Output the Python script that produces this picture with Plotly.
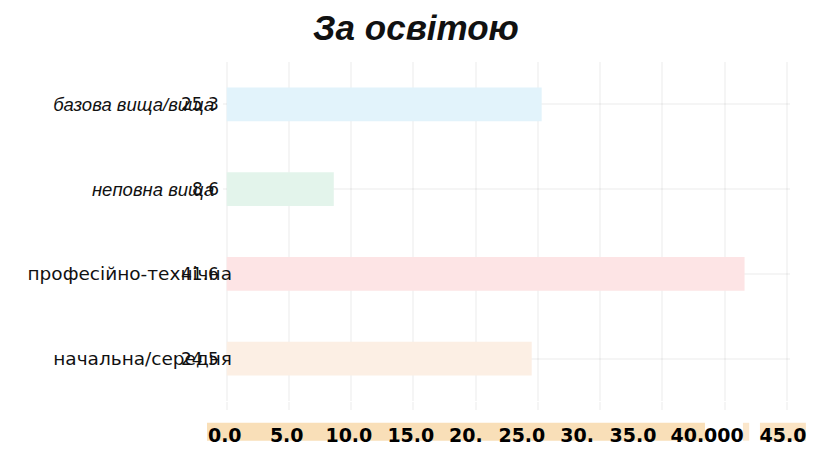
import plotly.graph_objects as go

# ---- data ----
categories = ["базова вища/вища", "неповна вища", "професійно-технічна", "начальна/середня"]
italic_flags = [True, True, False, False]
values = [25.3, 8.6, 41.6, 24.5]
bar_colors = ["#e2f3fb", "#e3f4eb", "#fde4e5", "#fcefe4"]
tick_labels = ["0.0", "5.0", "10.0", "15.0", "20.", "25.0", "30.", "35.0", "40.000", "45.0"]
tick_label_pos = [-0.16, 4.82, 9.81, 14.79, 19.21, 23.71, 28.14, 32.64, 38.59, 44.69]
title_text = "За освітою"

category_labels = [
    (f'<span style="font-family:Liberation Sans">{c}</span>&nbsp;&nbsp;&nbsp;' if it else c)
    if not it else f'<i><span style="font-family:Liberation Sans">{c}</span></i>&nbsp;&nbsp;&nbsp;'
    for c, it in zip(categories, italic_flags)
]

fig = go.Figure()
fig.add_trace(go.Bar(
    y=categories, x=values, orientation="h",
    marker=dict(color=bar_colors, line=dict(width=0)),
    showlegend=False, hoverinfo="skip",
))
# invisible trace on overlay axis to carry tick labels
fig.add_trace(go.Scatter(x=[0], y=[categories[0]], xaxis="x2", mode="markers",
                         marker=dict(opacity=0), showlegend=False, hoverinfo="skip"))

annotations = [
    dict(x=0, y=c, xref="x", yref="y", text=f"{v:.1f}", showarrow=False,
         xanchor="right", yanchor="middle", xshift=-6,
         font=dict(family="DejaVu Sans", size=17, color="#111"))
    for c, v in zip(categories, values)
]

grid = "rgba(0,0,0,0.04)"
fig.update_layout(
    width=836, height=450,
    margin=dict(l=215, r=54, t=54, b=54),
    paper_bgcolor="white", plot_bgcolor="white",
    bargap=0.6,
    title=dict(text=f"<b><i>{title_text}</i></b>", x=0.488, xanchor="center", y=0.956, yanchor="middle",
               font=dict(family="Liberation Sans, Arial", size=35, color="#111")),
    xaxis=dict(range=[-0.3, 45.25], tick0=0, dtick=5, showgrid=True, gridcolor=grid, gridwidth=2,
               zeroline=False, showline=False, showticklabels=False,
               ticks="outside", ticklen=8, tickcolor=grid, tickwidth=2),
    xaxis2=dict(overlaying="x", matches="x", side="bottom", showgrid=False, zeroline=False,
                tickmode="array", tickvals=tick_label_pos, ticktext=tick_labels, ticks="",
                ticklabelstandoff=21,
                tickfont=dict(family="DejaVu Sans", size=19, color="#000", weight="bold")),
    yaxis=dict(categoryorder="array", categoryarray=categories[::-1], showgrid=True, gridcolor=grid,
               gridwidth=2, zeroline=False, showline=False, ticks="",
               tickmode="array", tickvals=categories, ticktext=category_labels,
               ticklabelstandoff=-10,
               tickfont=dict(family="DejaVu Sans", size=18.5, color="#111")),
    annotations=annotations,
    shapes=[
        dict(type="rect", xref="paper", yref="paper", x0=-0.0282, x1=0.850, y0=-0.117, y1=-0.0643,
             fillcolor="#f9dfb8", line=dict(width=0), layer="below"),
        dict(type="rect", xref="paper", yref="paper", x0=0.917, x1=0.928, y0=-0.117, y1=-0.0643,
             fillcolor="#fbe7cc", line=dict(width=0), layer="below"),
        dict(type="rect", xref="paper", yref="paper", x0=0.947, x1=1.028, y0=-0.117, y1=-0.0643,
             fillcolor="#fbe4c4", line=dict(width=0), layer="below"),
    ],
)
fig.write_html("out.html")
